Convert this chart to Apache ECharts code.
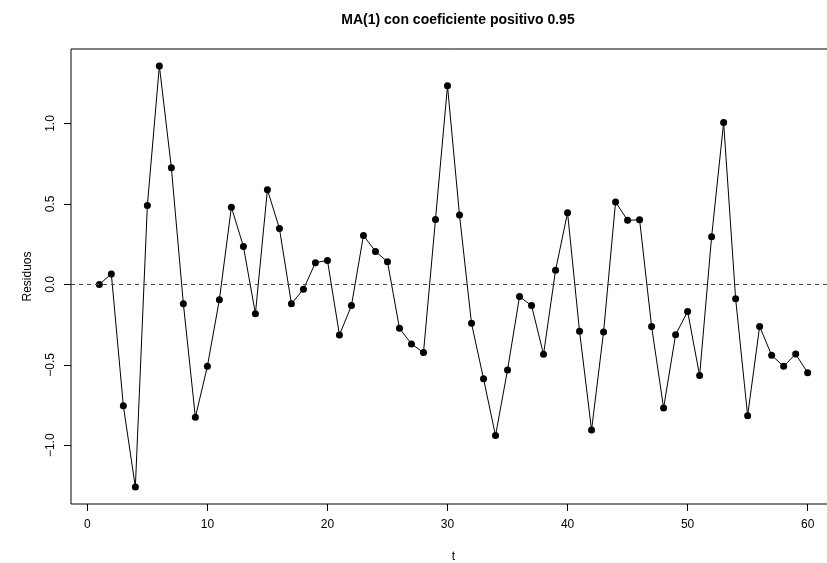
<!DOCTYPE html>
<html>
<head>
<meta charset="utf-8">
<script src="https://cdn.jsdelivr.net/npm/echarts@6/dist/echarts.min.js"></script>
<style>
  html, body { margin: 0; background: #fff; overflow: hidden; }
  /* the R plot box runs past the right edge of the picture */
  #chart { width: 845px; height: 563px; }
</style>
</head>
<body>
<div id="chart"></div>
<script>
// tiempo y residuos del MA(1)
var t = [1, 2, 3, 4, 5, 6, 7, 8, 9, 10, 11, 12, 13, 14, 15, 16, 17, 18, 19, 20,
  21, 22, 23, 24, 25, 26, 27, 28, 29, 30, 31, 32, 33, 34, 35, 36, 37, 38, 39, 40,
  41, 42, 43, 44, 45, 46, 47, 48, 49, 50, 51, 52, 53, 54, 55, 56, 57, 58, 59, 60]
var residuos = [0.0, 0.065, -0.755, -1.26, 0.49, 1.358, 0.725, -0.12, -0.826, -0.509,
  -0.095, 0.48, 0.236, -0.182, 0.588, 0.348, -0.12, -0.03, 0.135, 0.149,
  -0.314, -0.132, 0.304, 0.205, 0.141, -0.273, -0.37, -0.424, 0.404, 1.234,
  0.431, -0.242, -0.586, -0.94, -0.532, -0.076, -0.132, -0.435, 0.088, 0.445,
  -0.292, -0.905, -0.296, 0.512, 0.398, 0.402, -0.261, -0.768, -0.313, -0.168,
  -0.567, 0.296, 1.006, -0.089, -0.816, -0.261, -0.441, -0.509, -0.433, -0.55]
var xTicks = [0, 10, 20, 30, 40, 50, 60]
var yTicks = [-1.0, -0.5, 0.0, 0.5, 1.0]

var font = "'Liberation Sans', Arial, sans-serif"
var chart = echarts.init(document.getElementById('chart'))

chart.setOption({
  animation: false,
  title: {
    text: 'MA(1) con coeficiente positivo 0.95',
    left: 453, top: 8, textAlign: 'center',
    textStyle: { fontFamily: font, fontSize: 14, fontWeight: 'bold', color: '#000' }
  },
  grid: [{
    left: 71, top: 49, width: 765, height: 455,
    outerBoundsMode: 'none', containLabel: false,
    show: true, borderColor: '#000', borderWidth: 1, backgroundColor: 'transparent'
  }, {
    // strip just left of the box, 7px wide: carries the y tick marks
    left: 64, top: 49, width: 7, height: 455,
    outerBoundsMode: 'none', containLabel: false, show: false
  }],
  xAxis: [{
    type: 'value', min: -1.36, max: 62.36,
    name: 't', nameLocation: 'middle', nameGap: 47,
    nameTextStyle: { fontFamily: font, fontSize: 12, color: '#000' },
    axisLine: { show: false, onZero: false },
    splitLine: { show: false },
    axisTick: { show: true, customValues: xTicks, length: 7, lineStyle: { color: '#000', width: 1 } },
    axisLabel: {
      customValues: xTicks, margin: 15,
      fontFamily: font, fontSize: 12, color: '#000'
    }
  }, {
    gridIndex: 1, type: 'value', min: 0, max: 1, show: false
  }],
  yAxis: [{
    type: 'value', min: -1.365, max: 1.463,
    name: 'Residuos', nameLocation: 'middle', nameGap: 37, nameRotate: 90,
    nameTextStyle: { fontFamily: font, fontSize: 12, color: '#000' },
    axisLine: { show: false, onZero: false },
    splitLine: { show: false },
    axisTick: { show: true, customValues: yTicks, length: 7, lineStyle: { color: '#000', width: 1 } },
    axisLabel: {
      customValues: yTicks, rotate: 90, margin: 14,
      fontFamily: font, fontSize: 12, color: '#000',
      formatter: function (v) { return v.toFixed(1).replace('-', '\u2212') }
    }
  }, {
    gridIndex: 1, type: 'value', min: -1.365, max: 1.463, show: false
  }],
  series: [{
    type: 'line',
    xAxisIndex: 0, yAxisIndex: 0,
    data: t.map(function (x, i) { return [x, residuos[i]] }),
    symbol: 'circle', symbolSize: 7,
    lineStyle: { color: '#000', width: 1 },
    itemStyle: { color: '#000' },
    markLine: {
      silent: true, symbol: 'none', label: { show: false },
      lineStyle: { color: '#444', width: 1, type: [4, 4] },
      data: [{ yAxis: 0 }]
    }
  }, {
    // y tick marks, one per tick value, spanning the 7px strip
    type: 'line',
    xAxisIndex: 1, yAxisIndex: 1,
    data: [],
    markLine: {
      silent: true, symbol: 'none', label: { show: false },
      lineStyle: { color: '#000', width: 1, type: 'solid' },
      data: yTicks.map(function (v) { return { yAxis: v } })
    }
  }]
})
</script>
</body>
</html>
